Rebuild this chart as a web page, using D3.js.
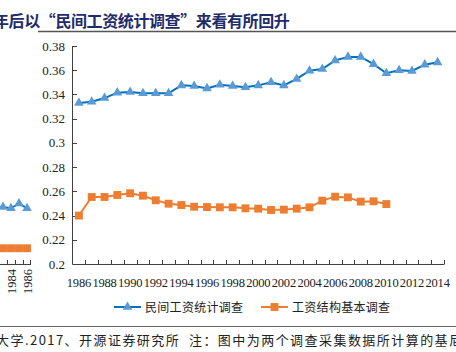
<!DOCTYPE html>
<html>
<head>
<meta charset="utf-8">
<script src="https://cdn.jsdelivr.net/npm/d3@7/dist/d3.min.js"></script>
<style>
  body { margin: 0; background: #fff; }
  svg { display: block; }
</style>
</head>
<body>
<svg class="gini" width="456" height="352"></svg>
<script>
// main chart data
const years = d3.range(1986, 2015);
const privateSurvey = [0.333, 0.334, 0.337, 0.3415, 0.342, 0.341, 0.341, 0.341, 0.3475, 0.347,
  0.345, 0.348, 0.347, 0.346, 0.3475, 0.350, 0.3475, 0.3528, 0.3596, 0.361,
  0.368, 0.371, 0.371, 0.365, 0.3575, 0.360, 0.3594, 0.3646, 0.3665];
const structureSurvey = [0.240, 0.2553, 0.2553, 0.257, 0.2584, 0.2564, 0.2526, 0.2498, 0.2487, 0.2473,
  0.247, 0.2468, 0.2468, 0.246, 0.2457, 0.2446, 0.2449, 0.2457, 0.2468, 0.2523,
  0.2556, 0.255, 0.2515, 0.2518, 0.2495];
const yTicks = [0.2, 0.22, 0.24, 0.26, 0.28, 0.3, 0.32, 0.34, 0.36, 0.38];
const yTickLabels = ["0.2", "0.22", "0.24", "0.26", "0.28", "0.3", "0.32", "0.34", "0.36", "0.38"];
const seriesNames = ["民间工资统计调查", "工资结构基本调查"];

// edge of the neighbouring chart, cut off at the left
const leftYears = [1980, 1981, 1982, 1983, 1984, 1985, 1986];
const leftBlue = [0.247, 0.247, 0.247, 0.247, 0.246, 0.250, 0.246];
const leftOrange = [0.213, 0.213, 0.213, 0.213, 0.213, 0.213, 0.213];
const leftLabels = [1984, 1986];

const titleText = "年后以“民间工资统计调查”来看有所回升";
const noteText = "大学.2017、开源证券研究所  注：图中为两个调查采集数据所计算的基尼系数";

const blueLine = "#0070c0", blueMark = "#5b9bd5", orange = "#ed7d31";
const serif = "'Liberation Serif', 'DejaVu Serif', serif";
const cjk = "'Noto Sans CJK SC', sans-serif";

const svg = d3.select(".gini");

// title and rules
svg.append("text")
  .attr("x", -7).attr("y", 27)
  .style("font-family", cjk).style("font-size", "16px").style("font-weight", "700")
  .style("letter-spacing", "-0.4px")
  .attr("fill", "#1f2c6b")
  .text(titleText);
svg.append("line").attr("x1", 38).attr("x2", 456).attr("y1", 31.5).attr("y2", 31.5)
  .attr("stroke", "#555").attr("stroke-width", 1.3);
svg.append("line").attr("x1", 0).attr("x2", 456).attr("y1", 326.5).attr("y2", 326.5)
  .attr("stroke", "#666").attr("stroke-width", 1);
svg.append("text")
  .attr("x", -4).attr("y", 345)
  .style("font-family", cjk).style("font-size", "13px").style("letter-spacing", "1.45px")
  .style("white-space", "pre")
  .attr("fill", "#222")
  .text(noteText);

// scales
const x = d3.scaleBand().domain(years).range([72.5, 444]);
const y = d3.scaleLinear().domain([0.2, 0.38]).range([264, 46]);
const axisColor = "#404040";

const g = svg.append("g");

// y axis
g.append("line").attr("x1", 72.5).attr("x2", 72.5).attr("y1", y(0.38)).attr("y2", y(0.2))
  .attr("stroke", axisColor);
g.selectAll(".ytick").data(yTicks).enter().append("line")
  .attr("x1", 72.5).attr("x2", 77)
  .attr("y1", d => Math.round(y(d)) + 0.5).attr("y2", d => Math.round(y(d)) + 0.5)
  .attr("stroke", axisColor);
g.selectAll(".ylab").data(yTicks).enter().append("text")
  .attr("x", 65).attr("y", d => y(d) + 4.5)
  .attr("text-anchor", "end")
  .style("font-family", serif).style("font-size", "13px").attr("fill", "#222")
  .text((d, i) => yTickLabels[i]);

// x axis
g.append("line").attr("x1", 72.5).attr("x2", 444).attr("y1", 264.5).attr("y2", 264.5)
  .attr("stroke", axisColor);
const bounds = years.map(d => x(d)).concat([x.range()[1]]);
g.selectAll(".xtick").data(bounds.slice(1)).enter().append("line")
  .attr("x1", d => Math.round(d) + 0.5).attr("x2", d => Math.round(d) + 0.5)
  .attr("y1", 264.5).attr("y2", 260)
  .attr("stroke", axisColor);
g.selectAll(".xlab").data(years.filter(d => d % 2 === 0)).enter().append("text")
  .attr("x", d => x(d) + x.bandwidth() / 2).attr("y", 287)
  .attr("text-anchor", "middle")
  .style("font-family", serif).style("font-size", "12.5px").style("letter-spacing", "-0.2px")
  .attr("fill", "#222")
  .text(d => d);

const cx = d => x(d) + x.bandwidth() / 2;
const tri = d3.symbol().type(d3.symbolTriangle).size(40);
const sq = d3.symbol().type(d3.symbolSquare).size(62);

function drawSeries(sel, xs, vals, xf, color, mark, symbol) {
  const pts = vals.map((v, i) => [xf(xs[i]), y(v)]);
  sel.append("path").datum(pts)
    .attr("d", d3.line())
    .attr("fill", "none").attr("stroke", color).attr("stroke-width", 2);
  sel.selectAll(null).data(pts).enter().append("path")
    .attr("d", symbol)
    .attr("transform", d => `translate(${d[0]},${d[1]})`)
    .attr("fill", mark);
}

drawSeries(g, years, privateSurvey, cx, blueLine, blueMark, tri);
drawSeries(g, years, structureSurvey, cx, orange, orange, sq);

// cut-off chart on the left
const xl = d3.scaleBand().domain(leftYears).range([-25, 31]);
const cxl = d => xl(d) + xl.bandwidth() / 2;
const gl = svg.append("g");
gl.append("line").attr("x1", 0).attr("x2", 31).attr("y1", 264.5).attr("y2", 264.5)
  .attr("stroke", axisColor);
gl.selectAll(null).data(leftYears.slice(1)).enter().append("line")
  .attr("x1", d => Math.round(xl(d)) + 0.5).attr("x2", d => Math.round(xl(d)) + 0.5)
  .attr("y1", 264.5).attr("y2", 260).attr("stroke", axisColor);
gl.append("line").attr("x1", 30.5).attr("x2", 30.5).attr("y1", 264.5).attr("y2", 260)
  .attr("stroke", axisColor);
gl.selectAll(null).data(leftLabels).enter().append("text")
  .attr("transform", d => `translate(${cxl(d) + 4.5},269) rotate(-90)`)
  .attr("text-anchor", "end")
  .style("font-family", serif).style("font-size", "12.5px").attr("fill", "#222")
  .text(d => d);
drawSeries(gl, leftYears, leftBlue, cxl, blueLine, blueMark, tri);
drawSeries(gl, leftYears, leftOrange, cxl, orange, orange, sq);

// legend
const legend = svg.append("g");
const items = [
  {x: 114, color: blueLine, mark: blueMark, sym: tri},
  {x: 261, color: orange, mark: orange, sym: sq}
];
items.forEach((it, i) => {
  legend.append("line").attr("x1", it.x).attr("x2", it.x + 27).attr("y1", 307).attr("y2", 307)
    .attr("stroke", it.color).attr("stroke-width", 2);
  legend.append("path").attr("d", it.sym).attr("transform", `translate(${it.x + 13.5},307)`)
    .attr("fill", it.mark);
  legend.append("text").attr("x", it.x + 31).attr("y", 311.5)
    .style("font-family", cjk).style("font-size", "12px").style("letter-spacing", "0.3px")
    .attr("fill", "#222")
    .text(seriesNames[i]);
});
</script>
</body>
</html>
